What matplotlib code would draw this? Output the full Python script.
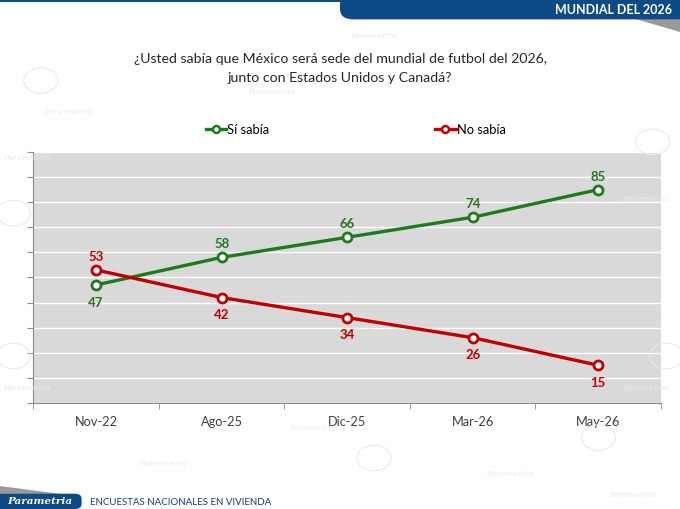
import matplotlib.pyplot as plt
from matplotlib.lines import Line2D
from matplotlib.patches import FancyBboxPatch, Rectangle, Polygon, Circle

# data
periodos = ["Nov-22", "Ago-25", "Dic-25", "Mar-26", "May-26"]
si_sabia = [47, 58, 66, 74, 85]
no_sabia = [53, 42, 34, 26, 15]

verde = "#1f7a1f"
rojo = "#c00000"
azul = "#0d4a86"

plt.rcParams['font.family'] = ['Lato', 'DejaVu Sans']

fig = plt.figure(figsize=(6.8, 5.1), dpi=100)

# faint watermark doodles in the background
wm = "#e6e9f0"
for (x, y) in [(0.06, 0.84), (0.96, 0.72), (0.02, 0.58), (0.02, 0.30), (0.98, 0.30), (0.55, 0.10), (0.88, 0.14)]:
    fig.patches.append(Circle((x, y), 0.025, transform=fig.transFigure, fill=False,
                              edgecolor=wm, lw=0.8, zorder=0))
for (x, y) in [(0.10, 0.78), (0.40, 0.82), (0.55, 0.93), (0.95, 0.61), (0.04, 0.69), (0.04, 0.24),
               (0.95, 0.24), (0.46, 0.16), (0.24, 0.09), (0.75, 0.07), (0.93, 0.03)]:
    fig.text(x, y, "Parametria", fontsize=6, style="italic", family="DejaVu Serif",
             color=wm, ha="center", va="center", zorder=0)

# top banner
fig.patches.append(Rectangle((0, 0.994), 1, 0.006, transform=fig.transFigure,
                             facecolor=azul, edgecolor="none", zorder=1))
fig.patches.append(Polygon([[0.93, 0.962], [1.0, 0.962], [1.0, 0.935]], closed=True,
                           transform=fig.transFigure, facecolor="#9a9a9a", edgecolor="none", zorder=1))
fig.patches.append(FancyBboxPatch((0.50, 0.960), 0.53, 0.05, boxstyle="round,pad=0,rounding_size=0.02",
                                  transform=fig.transFigure, facecolor=azul, edgecolor="none", zorder=2))
fig.text(0.988, 0.980, "MUNDIAL DEL 2026", color="white", fontsize=9, fontweight="bold",
         ha="right", va="center", zorder=3)

# bottom logo
fig.patches.append(Polygon([[0.0, 0.045], [0.0, 0.03], [0.09, 0.03]], closed=True,
                           transform=fig.transFigure, facecolor="#9a9a9a", edgecolor="none", zorder=1))
fig.patches.append(FancyBboxPatch((-0.02, 0.0), 0.14, 0.03, boxstyle="round,pad=0,rounding_size=0.01",
                                  transform=fig.transFigure, facecolor=azul, edgecolor="none", zorder=2))
fig.text(0.058, 0.016, "Parametria", color="white", fontsize=7.5, fontweight="bold", style="italic",
         family="DejaVu Serif", ha="center", va="center", zorder=3)
fig.text(0.132, 0.015, "ENCUESTAS NACIONALES EN VIVIENDA", color="#1b3f73", fontsize=7,
         ha="left", va="center", zorder=3)

# title
fig.text(0.5, 0.866, "¿Usted sabía que México será sede del mundial de futbol del 2026,\njunto con Estados Unidos y Canadá?",
         ha="center", va="center", fontsize=10.2, color="#262626", linespacing=1.7)

ax = fig.add_axes([0.049, 0.208, 0.923, 0.492])
ax.set_facecolor("#d9d9d9")
x = list(range(len(periodos)))

ax.plot(x, si_sabia, color=verde, lw=2.4, marker="o", ms=6.5, mfc="white", mew=2, zorder=3)
ax.plot(x, no_sabia, color=rojo, lw=2.4, marker="o", ms=6.5, mfc="white", mew=2, zorder=3)

for i in x:
    s, n = si_sabia[i], no_sabia[i]
    s_off = 10 if s > n else -12
    n_off = 10 if n > s else -12
    ax.annotate(str(s), (i, s), xytext=(0, s_off), textcoords="offset points", ha="center", va="center",
                color=verde, fontsize=9.5, fontweight="bold")
    ax.annotate(str(n), (i, n), xytext=(0, n_off), textcoords="offset points", ha="center", va="center",
                color=rojo, fontsize=9.5, fontweight="bold")

ax.set_xlim(-0.5, len(periodos) - 0.5)
ax.set_ylim(0, 100)
ax.set_yticks(range(0, 101, 10))
ax.set_yticklabels([])
ax.grid(axis="y", color="white", lw=1)
ax.set_axisbelow(True)
ax.tick_params(axis="y", length=4, color="#8c8c8c")

ax.set_xticks(x)
ax.set_xticklabels(periodos, fontsize=9.2, color="#404040")
ax.set_xticks([i + 0.5 for i in range(-1, len(periodos))], minor=True)
ax.tick_params(axis="x", which="major", length=0, pad=9)
ax.tick_params(axis="x", which="minor", length=4, color="#8c8c8c")

for side in ["top", "right"]:
    ax.spines[side].set_visible(False)
for side in ["left", "bottom"]:
    ax.spines[side].set_color("#8c8c8c")

# legend
h1 = Line2D([], [], color=verde, lw=2.4, marker="o", ms=5, mfc="white", mew=1.8)
h2 = Line2D([], [], color=rojo, lw=2.4, marker="o", ms=5, mfc="white", mew=1.8)
fig.legend([h1, h2], ["Sí sabía", "No sabía"], loc="center", bbox_to_anchor=(0.523, 0.745), ncol=2,
           frameon=False, fontsize=9.3, handlelength=1.6, handletextpad=0.1, columnspacing=12.8)

fig.savefig("out.png", dpi=100)
